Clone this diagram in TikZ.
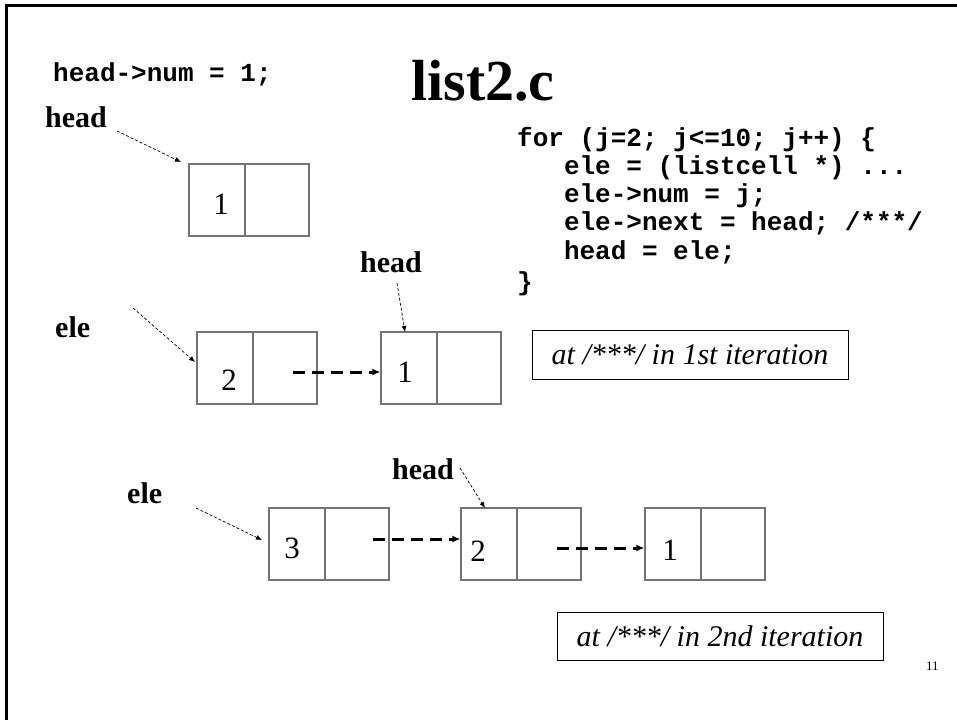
\documentclass[tikz,border=0pt]{standalone}
\usepackage{fontspec}
\setmainfont{Liberation Serif}
\setmonofont{Liberation Mono}
\usetikzlibrary{arrows.meta}
\begin{document}
\begin{tikzpicture}[x=1pt,y=-1pt,
 cell/.style={draw=black!55, line width=1.2pt, minimum height=72pt, inner sep=0pt},
 lcell/.style={cell, minimum width=56pt},
 rcell/.style={cell, minimum width=64pt},
 digit/.style={font=\fontsize{31}{32}\selectfont, inner sep=0pt},
 lbl/.style={font=\fontsize{30}{32}\selectfont\bfseries, inner sep=0pt, anchor=base west},
 code/.style={font=\fontsize{26}{28}\selectfont\ttfamily\bfseries, inner sep=0pt, anchor=base west},
 ptr/.style={-{Latex[length=6pt,width=5pt]}, dash pattern=on 3pt off 2pt, line width=0.7pt},
 link/.style={-{Latex[length=8pt,width=7pt]}, line width=3pt, dash pattern=on 12pt off 7pt},
 note/.style={draw, line width=1pt, font=\fontsize{30}{32}\selectfont\itshape, inner sep=0pt}
]
\useasboundingbox (0,0) rectangle (957,720);
% frame
\draw[line width=3pt] (6,720) -- (6,5) -- (957,5);

% title and top code
\node[font=\fontsize{58}{60}\selectfont\bfseries, inner sep=0pt, anchor=base west] (title) at (411,100) {list2.c};
\node[code] (init) at (53,81) {head->num = 1;};

\node[code] (l1) at (517,146) {for (j=2; j<=10; j++) \{};
\node[code] (l2) at (517,174.3) {\phantom{for}ele = (listcell *) ...};
\node[code] (l3) at (517,202.5) {\phantom{for}ele->num = j;};
\node[code] (l4) at (517,230.7) {\phantom{for}ele->next = head; /***/};
\node[code] (l5) at (517,259) {\phantom{for}head = ele;};
\node[code] (l6) at (517,290) {\}};

% row 1
\node[lcell] (a1) at (217,200) {};
\node[rcell] (a1r) at (277,200) {};
\node[digit] (da1) at (221,204) {1};
\node[lbl] (hd1) at (45,127) {head};
\coordinate (hd1s) at (117,131);
\coordinate (hd1e) at (181,162);
\draw[ptr] (hd1s) -- (hd1e);

% row 2
\node[lcell] (b2) at (225,368) {};
\node[rcell] (b2r) at (285,368) {};
\node[digit] (db2) at (229,380) {2};
\node[lcell] (b1) at (409,368) {};
\node[rcell] (b1r) at (469,368) {};
\node[digit] (db1) at (405,372) {1};
\node[lbl] (hd2) at (360,272) {head};
\coordinate (hd2s) at (397,283);
\coordinate (hd2e) at (405,332);
\draw[ptr] (hd2s) -- (hd2e);
\node[lbl] (el2) at (55,337) {ele};
\coordinate (el2s) at (133,308);
\coordinate (el2e) at (195,362);
\draw[ptr] (el2s) -- (el2e);
\coordinate (lk2s) at (293,372);
\draw[link] (lk2s) -- (lk2s -| b1.west);
\node[note, minimum width=316pt, minimum height=49pt] (n1) at (690,354.5) {at /***/ in 1st iteration};

% row 3
\node[lcell] (c3) at (297,544) {};
\node[rcell] (c3r) at (357,544) {};
\node[digit] (dc3) at (292,548) {3};
\node[lcell] (c2) at (489,544) {};
\node[rcell] (c2r) at (549,544) {};
\node[digit] (dc2) at (478,551) {2};
\node[lcell] (c1) at (673,544) {};
\node[rcell] (c1r) at (733,544) {};
\node[digit] (dc1) at (670,550) {1};
\node[lbl] (el3) at (127,503) {ele};
\coordinate (el3s) at (196,508);
\coordinate (el3e) at (262,540);
\draw[ptr] (el3s) -- (el3e);
\node[lbl] (hd3) at (392,479) {head};
\coordinate (hd3s) at (460,468);
\coordinate (hd3e) at (485,508);
\draw[ptr] (hd3s) -- (hd3e);
\coordinate (lk3s) at (373,539);
\draw[link] (lk3s) -- (lk3s -| c2.west);
\coordinate (lk4s) at (557,548);
\draw[link] (lk4s) -- (lk4s -| c1.west);
\node[note, minimum width=326pt, minimum height=48pt] (n2) at (720,636) {at /***/ in 2nd iteration};

\node[font=\fontsize{13}{14}\selectfont, inner sep=0pt, anchor=base west] (pg) at (926,670) {11};
\end{tikzpicture}
\end{document}
